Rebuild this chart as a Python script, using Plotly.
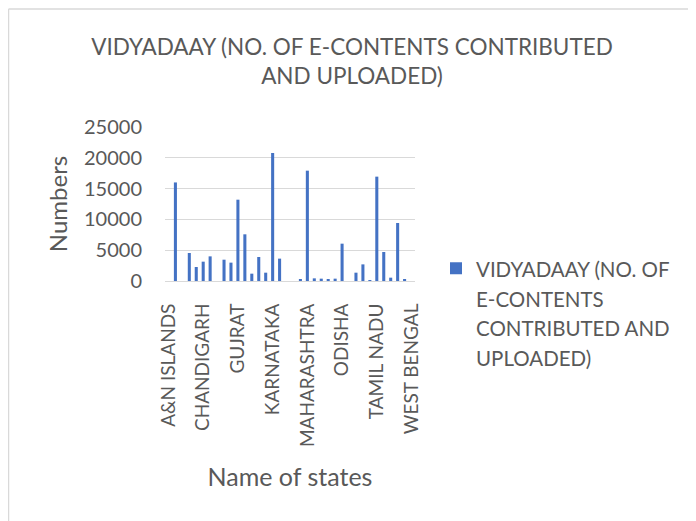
import plotly.graph_objects as go

states = [
    "A&N ISLANDS", "ANDHRA PRADESH", "ARUNACHAL PRADESH", "ASSAM", "BIHAR",
    "CHANDIGARH", "CHHATTISGARH", "DNH & DD", "DELHI", "GOA",
    "GUJRAT", "HARYANA", "HIMACHAL PRADESH", "JAMMU & KASHMIR", "JHARKHAND",
    "KARNATAKA", "KERALA", "LADAKH", "LAKSHADWEEP", "MADHYA PRADESH",
    "MAHARASHTRA", "MANIPUR", "MEGHALAYA", "MIZORAM", "NAGALAND",
    "ODISHA", "PUDUCHERRY", "PUNJAB", "RAJASTHAN", "SIKKIM",
    "TAMIL NADU", "TELANGANA", "TRIPURA", "UTTAR PRADESH", "UTTARAKHAND",
    "WEST BENGAL",
]
values = [
    0, 16000, 0, 4550, 2270,
    3140, 4000, 0, 3460, 2980,
    13200, 7580, 1190, 3900, 1350,
    20780, 3630, 0, 0, 200,
    17910, 430, 380, 320, 380,
    6060, 0, 1350, 2700, 80,
    16940, 4710, 540, 9420, 200,
    0,
]
tick_labels = ["A&N ISLANDS", "CHANDIGARH", "GUJRAT", "KARNATAKA",
               "MAHARASHTRA", "ODISHA", "TAMIL NADU", "WEST BENGAL"]
y_ticks = [0, 5000, 10000, 15000, 20000, 25000]
y_tick_text = ["0", "5000", "10000", "15000", "20000", "25000"]
series_lines = ["VIDYADAAY (NO. OF", "E-CONTENTS", "CONTRIBUTED AND", "UPLOADED)"]
title_text = "VIDYADAAY (NO. OF E-CONTENTS CONTRIBUTED<br>AND UPLOADED)"

FONT = "Lato"
GREY = "#595959"
OFF = 8  # page body margin
W, H = 696 - OFF, 521 - OFF
L, R, T, B = 165 - OFF, 696 - 415, 127 - OFF, 521 - 281
pw = W - L - R
ph = H - T - B


def px_x(px):
    return (px - OFF - L) / pw


def px_y(py):
    return (H - B - (py - OFF)) / ph


series_name = "<br>".join(
    f"<span style='font-size:20.5px'>{s}</span>" for s in series_lines)

fig = go.Figure()
fig.add_trace(go.Bar(
    x=states, y=values, name=series_name,
    marker=dict(color="#4472C4", line=dict(width=0)),
    showlegend=True,
))

fig.update_layout(
    width=W, height=H,
    margin=dict(l=L, r=R, t=T, b=B, autoexpand=False),
    paper_bgcolor="white", plot_bgcolor="white",
    font=dict(family=FONT, color=GREY, size=20),
    bargap=0.56,
    title=dict(text=title_text, x=(352 - OFF) / W, xanchor="center",
               y=1 - 47 / H, yanchor="top",
               font=dict(size=22.5, color=GREY, family=FONT)),
    xaxis=dict(
        type="category",
        tickmode="array", tickvals=tick_labels, ticktext=tick_labels,
        tickangle=-90, showgrid=False, showline=True, linecolor="#D9D9D9",
        linewidth=1, ticks="", tickfont=dict(size=19, color=GREY),
        ticklabelstandoff=14,
        title=dict(text="Name of states", font=dict(size=25, color=GREY), standoff=22),
    ),
    yaxis=dict(
        range=[0, 25000], tickmode="array", tickvals=y_ticks, ticktext=y_tick_text,
        showgrid=True, gridcolor="#D9D9D9",
        gridwidth=1, zeroline=False, showline=False, ticks="",
        tickfont=dict(size=20, color=GREY), ticklabelstandoff=22,
        title=dict(text="Numbers", font=dict(size=24, color=GREY), standoff=9),
    ),
    legend=dict(
        x=px_x(436), y=px_y(247), xanchor="left", yanchor="top",
        font=dict(size=22.7, color=GREY, family=FONT), valign="top",
        bgcolor="rgba(0,0,0,0)",
    ),
    shapes=[
        dict(type="line", xref="paper", yref="paper",
             x0=px_x(8.5), x1=px_x(696), y0=px_y(9), y1=px_y(9),
             line=dict(color="#D9D9D9", width=1.5)),
        dict(type="line", xref="paper", yref="paper",
             x0=px_x(8.5), x1=px_x(8.5), y0=px_y(9), y1=px_y(521),
             line=dict(color="#D9D9D9", width=1.5)),
    ],
)

fig.write_html("out.html")
